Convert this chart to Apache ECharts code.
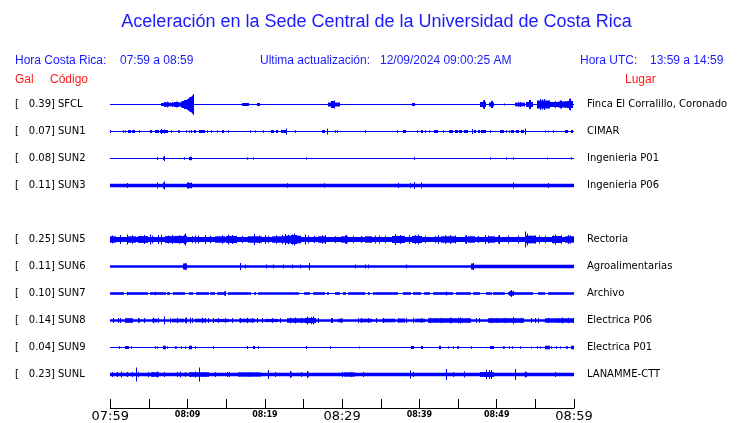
<!DOCTYPE html>
<html>
<head>
<meta charset="utf-8">
<script src="https://cdn.jsdelivr.net/npm/echarts@6/dist/echarts.min.js"></script>
<style>html,body{margin:0;padding:0;background:#fff;}#c{width:740px;height:423px;}</style>
</head>
<body>
<div id="c"></div>
<script>
// ---------- data ----------
const CODES = ['SFCL','SUN1','SUN2','SUN3','SUN5','SUN6','SUN7','SUN8','SUN9','SUNL'];
const PLACES = ['Finca El Corralillo, Coronado','CIMAR','Ingenieria P01','Ingenieria P06','Rectoria','Agroalimentarias','Archivo','Electrica P06','Electrica P01','LANAMME-CTT'];
const PEAK_GAL = [0.39,0.07,0.08,0.11,0.25,0.11,0.10,0.14,0.04,0.23];
// half-amplitude of the quiet background of each trace
const BASE_AMP = [0.5,0.5,0.5,1.7,2.5,1.3,0.5,1.3,0.5,1.7];
const TICK_LABELS = ['07:59','','08:09','','08:19','','08:29','','08:39','','08:49','','08:59'];
const BIG_LABELS = ['07:59','08:29','08:59'];

// bursts: [startMin, endMin, halfAmp]; spikes: [min, halfAmp]
const SFCL_BURSTS = [[6.5,7.0,1.5],[7.0,7.6,2.2],[7.6,8.2,1.8],[8.2,8.8,2.5],[8.8,9.3,2.0],[9.3,9.7,3.5],[9.7,10.0,4.5],[10.0,10.3,6],[10.3,10.6,7.5],[10.6,10.85,9],
  [17.0,17.9,1.5],[18.95,19.3,1.5],[28.2,29.7,2],[28.6,29.1,3.5],[39.1,39.45,1.5],[47.9,48.7,2.5],[48.2,48.5,4],[49.0,49.6,2],[49.2,49.4,3.5],[50.9,51.0,1],
  [52.4,53.7,1.8],[53.8,54.7,2.5],[54.2,54.5,4.5],[55.2,56.85,4],[56.85,57.9,2.5],[57.9,59.0,3],[58.2,58.5,4],[59.1,59.85,3.5],[59.3,59.6,5.5]];
const SFCL_SPIKES = [[10.73,10.5],[10.5,8],[10.2,7],[9.9,5.5],[9.5,4.5],[8.5,3],[7.3,2.8],[6.9,2.5],[8.0,2.6],[9.1,3],[55.56,5.5],[56.1,5.5],[55.9,5],[54.35,4.5],[48.36,4.5],[49.3,3.5],[59.44,6],[28.9,4],[53.0,2.5],[52.7,2.5],[57.5,3.5],[58.8,3.5]];

const SUN1_BURSTS = [[0,0.1,1.5],[1.65,1.75,1.2],[1.88,1.95,1.2],[2.33,2.76,1.5],[2.84,3.28,1.5],[3.72,3.8,1.2],[5.13,5.43,1.5],[5.78,6.29,1.5],[6.42,7.41,1.5],[7.9,7.98,1.2],
  [8.71,9.01,1.2],[9.85,9.92,1.2],[10.15,10.2,1.2],[10.5,10.55,1.5],[10.86,11.12,1.5],[11.51,12.24,1.5],[12.57,12.63,1.2],[13.0,13.05,1.2],[13.77,13.82,1.2],[14.4,14.61,1.5],
  [15.24,15.3,1.2],[18.08,18.13,1.2],[18.77,18.82,1.2],[19.76,19.81,1.2],[20.73,21.08,1.5],[21.42,21.72,1.5],[22.07,22.8,1.5],[23.9,23.95,1.2],[27.33,27.76,1.5],[29.03,29.08,1.2],
  [29.33,29.38,1.2],[33.0,33.05,1.2],[37.09,37.14,1.2],[37.89,38.32,1.5],[39.64,39.69,1.2],[40.26,40.52,1.5],[40.76,40.81,1.2],[41.18,41.23,1.2],[41.9,42.41,1.5],[43.04,43.09,1.2],
  [43.79,44.35,1.5],[44.57,45.0,1.5],[45.13,45.56,1.5],[45.78,46.29,1.5],[46.75,46.85,1.5],[47.07,47.37,1.5],[47.59,47.89,1.5],[48.02,48.66,1.5],[49.08,49.13,1.2],[50.39,50.91,1.5],
  [51.23,51.28,1.2],[51.57,51.62,1.2],[51.9,52.33,1.5],[52.54,52.97,1.5],[53.19,53.53,1.5],[56.19,56.24,1],[56.62,56.67,1],[57.26,57.31,1.2],[58.79,59.14,1.5],[59.66,59.91,1.5]];
const SUN1_SPIKES = [[6.6,2.5],[6.98,2],[22.72,3],[28.06,3],[46.81,2.5],[53.62,3]];

const SUN2_BURSTS = [[6.06,6.12,1.5],[6.85,7.07,1.5],[9.55,9.6,1.2],[10.17,10.52,1.5],[17.74,17.79,1.2],[18.47,18.52,1.2],[25.32,25.37,1.2],[39.33,39.38,1.5],[49.08,49.13,1.2],[51.23,51.28,1.2],[52.09,52.14,1.2],[56.49,56.54,1],[59.64,59.69,1.2]];
const SUN2_SPIKES = [[6.96,2.5],[10.3,2]];

const SUN3_BURSTS = [[6.05,6.12,3],[6.85,7.07,3],[9.95,10.05,3],[10.2,10.5,2.5],[22.9,22.96,2.3]];
const SUN3_SPIKES = [[2.11,2.5],[6.95,4],[10.0,3.2],[10.45,3],[27.63,2.3],[37.24,2.5],[38.75,2.5],[39.35,3.5],[40.17,3],[52.11,3],[56.64,2.5]];

const SUN5_BURSTS = [[0,0.8,3.2],[2.33,3.4,3.2],[3.6,4.9,3.4],[7.07,8.36,3.4],[8.36,9.87,3.6],[13.5,14.8,3.2],[15.0,16.3,3.5],[17.8,19.6,3.2],[20.9,22.6,3.2],[22.6,24.7,3.8],[23.4,24.2,4.5],
  [26.9,27.8,3.2],[29.9,30.8,3.2],[32.9,33.8,3.2],[36.4,38.1,3.5],[39.0,40.3,3.5],[42.8,44.6,3.2],[46.3,47.2,3.2],[48.9,49.8,3.2],[53.6,54.9,3.8],[57.1,58.4,3.5],[58.8,59.9,3.2]];
const SUN5_SPIKES = [[1.2,4.5],[2.1,5],[4.4,4.5],[5.1,5],[6.6,5],[9.66,6],[11.0,4],[12.2,4.5],[15.26,5],[18.6,5.5],[20.0,4.5],[22.6,5.5],[23.8,6],[25.2,5],[27.8,4.5],[30.5,4.5],
  [34.8,4],[36.9,5.5],[39.8,5],[42.4,4.5],[44.0,4.5],[46.0,4.5],[48.5,4.5],[50.3,4.5],[51.5,4],[53.7,8],[53.9,6],[55.5,4],[57.5,5],[59.2,4.5],
  [0.26,4],[1.25,3.8],[2.84,4.2],[3.53,3.6],[4.35,4],[5.34,3.8],[6.21,4.4],[7.5,4],[7.93,4.6],[8.88,4.2],[9.48,4.8],[10.6,3.6],[11.38,4],[12.89,3.8],[14.4,4.2],[15.69,4.4],
  [16.21,3.8],[17.07,3.6],[18.58,4.6],[19.22,4],[20.43,3.8],[21.38,4.2],[22.16,4.5],[22.93,4.8],[23.53,5],[24.09,4.6],[25.6,4],[26.38,3.8],[27.33,4.2],[29.05,3.6],[30.34,4],
  [31.42,3.8],[32.5,3.6],[34.22,4],[35.52,3.8],[36.81,4.4],[37.46,4.6],[38.62,4.2],[39.4,4.5],[40.69,3.8],[41.98,3.6],[43.28,4.2],[44.57,4],[45.86,3.8],[47.59,3.6],[48.88,4],
  [50.17,3.8],[51.47,3.6],[52.76,4],[54.91,4.2],[56.2,3.8],[57.28,4],[58.36,4.2],[59.44,4]];

const SUN6_BURSTS = [[9.44,10.0,3],[46.72,47.07,3],[47.07,60,1.7]];
const SUN6_SPIKES = [[9.7,3.5],[16.77,3.5],[17.4,2],[20.2,2],[21.08,2],[22.37,2],[23.45,2],[24.5,2],[25.69,3.5],[31.64,2],[32.93,2],[33.4,2],[38.3,2],[46.9,3.5]];

const SUN7_BURSTS = [[0,1.81,1.3],[2.24,4.83,1.3],[5.13,7.16,1.3],[7.28,7.72,1.3],[8.06,9.66,1.3],[10.17,10.73,1.3],[11.03,12.67,1.3],[12.89,13.53,1.3],[13.75,14.61,1.3],[14.7,14.95,2],
  [15.26,18.28,1.3],[18.58,18.79,1.3],[19.05,24.31,1.3],[25.09,25.82,1.3],[26.25,27.76,1.3],[28.1,28.41,1.3],[29.05,29.7,1.3],[30.13,30.56,1.3],[30.78,32.93,1.3],[33.36,33.58,1.3],
  [34.0,37.24,1.3],[37.89,38.97,1.3],[39.18,40.26,1.3],[40.6,41.34,1.3],[41.77,44.35,1.3],[44.78,46.72,1.3],[46.94,47.8,1.3],[48.58,49.31,1.3],[49.53,51.03,1.3],[51.47,54.7,1.3],
  [51.6,52.2,2],[55.34,56.21,1.3],[56.64,60,1.3]];
const SUN7_SPIKES = [[2.1,1.8],[5.8,1.8],[14.83,2.5],[43.49,2],[51.7,2.5],[51.9,3.5],[52.1,2.5]];

const SUN8_BURSTS = [[1.9,2.97,2.3],[5.34,5.99,1.8],[7.93,9.44,1.8],[10.95,12.24,1.8],[13.5,15.3,1.6],[16.6,18.7,1.8],[20.0,21.7,1.6],[22.8,25.17,2.2],[25.17,26.55,2.6],[29.5,30.1,1.8],
  [32.3,33.8,1.8],[35.1,36.8,1.8],[37.2,38.1,2],[39.4,40.7,1.8],[41.1,42.4,2.2],[42.4,46.7,2.2],[48.9,53.6,2.2],[56.2,60,2.2]];
const SUN8_SPIKES = [[1.0,2.5],[3.7,2],[6.98,4],[9.8,3],[10.3,3],[12.7,2.5],[19.0,2.5],[25.5,4],[26.0,3.5],[26.2,4],[28.7,2.5],[34.4,2.5],[44.0,3],[45.2,3],[47.7,2.5],[52.1,3.5],[54.9,2.5],[58.5,3],
  [0.39,2.6],[1.25,2.4],[3.62,2.6],[4.4,2.4],[5.56,2.8],[6.21,2.4],[7.72,2.6],[8.58,2.8],[9.66,2.4],[10.6,2.6],[11.81,2.8],[12.24,2.4],[13.32,2.6],[13.97,2.4],[14.83,2.6],[15.69,2.4],
  [16.77,2.6],[17.63,2.8],[18.28,2.4],[19.57,2.6],[20.86,2.4],[21.94,2.6],[23.23,2.8],[23.88,3],[24.74,2.8],[26.9,2.4],[28.62,2.4],[29.91,2.6],[32.07,2.4],[32.5,2.6],[33.36,2.4],
  [34.44,2.6],[35.3,2.4],[37.24,2.6],[38.32,2.4],[39.18,2.6],[40.26,2.4],[41.34,2.8],[41.98,2.6],[42.84,2.8],[44.14,2.6],[45.0,2.8],[46.29,2.6],[47.37,2.4],[49.31,2.8],[49.96,2.6],
  [51.03,2.8],[52.33,2.6],[53.19,2.8],[54.48,2.4],[55.34,2.6],[56.64,2.8],[57.93,2.6],[59.23,2.8],[59.87,2.6]];

const SUN9_BURSTS = [[1.18,1.24,1.2],[1.9,2.41,1.5],[2.65,2.7,1.2],[5.84,5.9,1.2],[6.1,6.15,1.2],[6.85,7.2,1.8],[7.4,7.45,1.2],[8.34,8.4,1.2],[8.55,8.6,1.2],[9.1,9.15,1.2],
  [9.65,9.7,1.2],[10.17,10.6,1.8],[11.0,11.05,1.2],[13.3,13.35,1.2],[17.74,17.8,1.5],[18.5,18.7,1.5],[19.14,19.2,1.2],[25.32,25.38,1.5],[28.47,28.52,1.2],[32.2,32.25,1],
  [38.97,39.3,1.5],[40.26,40.56,1.5],[42.54,42.84,1.8],[43.7,43.75,1.2],[44.35,44.4,1.2],[44.8,45.0,1.2],[46.62,46.67,1.2],[49.1,49.66,1.5],[50.8,51.05,1.2],[51.55,51.6,1.2],
  [52.0,52.05,1.2],[52.98,53.03,1.2],[54.48,54.53,1],[55.2,55.25,1.2],[55.55,55.6,1.2],[56.21,56.85,1.8],[57.06,57.11,1.2],[57.7,57.75,1.2],[58.25,58.3,1.2],[59.0,59.3,1.2],[59.57,60,1.8]];
const SUN9_SPIKES = [];

const SUNL_BURSTS = [[5.3,6.3,2.2],[10.2,12.8,2.2],[16.5,19.5,2.1],[30.2,31.6,2.1],[47.8,49.6,2.4]];
const SUNL_SPIKES = [[3.32,7],[11.51,7],[20.43,4.5],[23.23,3.5],[25.39,3.5],[38.75,4],[43.49,5.5],[45.73,3],[48.66,4.5],[48.97,4.5],[49.31,4.5],[52.33,5.5],[53.62,3],[57.6,2.5],
  [0.17,2.5],[0.9,2.5],[1.38,3],[2.11,2.5],[2.76,2.5],[3.62,2.5],[4.91,2.5],[5.34,2.5],[5.99,3],[6.9,2.5],[8.58,2.5],[9.0,3],[9.66,2.5],[10.3,2.5],[10.95,3],[11.81,2.5],[12.24,2.5],
  [13.53,2.5],[15.04,2.5],[15.34,2.5],[17.93,2.5],[21.29,2.5],[23.36,2.5],[24.74,2.5],[25.6,2.5],[30.0,2.5],[31.2,2.5],[32.7,2.5],[39.18,2.5],[44.35,2.5],[48.45,2.5],[53.83,2.5]];

const ALL_BURSTS = [SFCL_BURSTS,SUN1_BURSTS,SUN2_BURSTS,SUN3_BURSTS,SUN5_BURSTS,SUN6_BURSTS,SUN7_BURSTS,SUN8_BURSTS,SUN9_BURSTS,SUNL_BURSTS];
const ALL_SPIKES = [SFCL_SPIKES,SUN1_SPIKES,SUN2_SPIKES,SUN3_SPIKES,SUN5_SPIKES,SUN6_SPIKES,SUN7_SPIKES,SUN8_SPIKES,SUN9_SPIKES,SUNL_SPIKES];

// ---------- layout ----------
const SPACING = 27, FIRST = 15;
function offsetOf(i){ const slot = i >= 4 ? i + 1 : i; return FIRST + SPACING * slot; }
const TRACE = '#0000ff', BLUE = '#1a1aff', RED = '#ff1a1a';

const rects = [];
CODES.forEach((c, i) => {
  const off = offsetOf(i);
  rects.push([0, 60, off, BASE_AMP[i]]);
  ALL_BURSTS[i].forEach(b => rects.push([b[0], b[1], off, b[2]]));
  ALL_SPIKES[i].forEach(s => rects.push([s[0], s[0], off, s[1]]));
});
const labelData = CODES.map((c, i) => [0, offsetOf(i), i]);

function renderRect(params, api){
  const p0 = api.coord([api.value(0), api.value(2) - api.value(3)]);
  const p1 = api.coord([api.value(1), api.value(2) + api.value(3)]);
  const x = Math.round(Math.min(p0[0], p1[0]));
  const w = Math.max(Math.round(Math.abs(p1[0] - p0[0])), 1);
  const y = Math.min(p0[1], p1[1]);
  const h = Math.max(Math.abs(p1[1] - p0[1]), 1);
  return { type: 'rect', shape: { x: x, y: y, width: w, height: h }, style: { fill: TRACE } };
}
function renderLabel(params, api){
  const i = api.value(2);
  const p = api.coord([0, api.value(1)]);
  const pr = api.coord([60, api.value(1)]);
  const f = '10px "DejaVu Sans"';
  const st = (txt, x, align) => ({ type: 'text', x: x, y: p[1], style: { text: txt, font: f, fill: '#000', textAlign: align, textVerticalAlign: 'middle' } });
  return { type: 'group', children: [
    st('[', 15, 'left'),
    st(PEAK_GAL[i].toFixed(2) + ']', 55, 'right'),
    st(CODES[i], 58, 'left'),
    st(PLACES[i], pr[0] + 13, 'left')
  ]};
}

const chart = echarts.init(document.getElementById('c'), null, { renderer: 'canvas' });
const hdr = (txt, x, y, color, size, align) => ({ type: 'text', x: x, y: y,
  style: { text: txt, font: (size || 12) + 'px "Liberation Sans", Arial, sans-serif', fill: color, textAlign: align || 'left', textVerticalAlign: 'middle' } });

chart.setOption({
  animation: false,
  backgroundColor: '#ffffff',
  grid: { left: 110.3, right: 740 - 574, top: 89.5, bottom: 15, containLabel: false },
  xAxis: {
    type: 'value', min: 0, max: 60, interval: 5, position: 'bottom',
    axisLine: { show: true, onZero: false, lineStyle: { color: '#000', width: 1 } },
    axisTick: { show: true, inside: true, length: 9, lineStyle: { color: '#000', width: 1 } },
    splitLine: { show: false },
    axisLabel: {
      margin: 2, showMinLabel: true, showMaxLabel: true, hideOverlap: false,
      formatter: v => { const t = TICK_LABELS[Math.round(v / 5)] || ''; if (!t) return ''; return BIG_LABELS.indexOf(t) >= 0 ? '{big|' + t + '}' : '{small|' + t + '}'; },
      verticalAlign: 'top',
      rich: {
        big: { fontSize: 13, fontFamily: 'DejaVu Sans', color: '#000', lineHeight: 13, verticalAlign: 'top' },
        small: { fontSize: 8, fontWeight: 'bold', fontFamily: 'DejaVu Sans', color: '#000', lineHeight: 13, verticalAlign: 'top', padding: [1, 0, 0, 0] }
      }
    }
  },
  yAxis: { type: 'value', min: 0, max: 318.5, inverse: true, show: false },
  graphic: [
    hdr('Aceleración en la Sede Central de la Universidad de Costa Rica', 376.5, 22, BLUE, 18, 'center'),
    hdr('Hora Costa Rica:', 15, 61, BLUE),
    hdr('07:59 a 08:59', 120, 61, BLUE),
    hdr('Ultima actualización:', 260, 61, BLUE),
    hdr('12/09/2024 09:00:25 AM', 380, 61, BLUE),
    hdr('Hora UTC:', 580, 61, BLUE),
    hdr('13:59 a 14:59', 650, 61, BLUE),
    hdr('Gal', 15, 80, RED),
    hdr('Código', 50, 80, RED),
    hdr('Lugar', 625, 80, RED)
  ],
  series: [
    { type: 'custom', renderItem: renderRect, data: rects, encode: { x: [0, 1], y: 2 }, clip: false, silent: true },
    { type: 'custom', renderItem: renderLabel, data: labelData, encode: { x: 0, y: 1 }, clip: false, silent: true }
  ]
});
</script>
</body>
</html>
